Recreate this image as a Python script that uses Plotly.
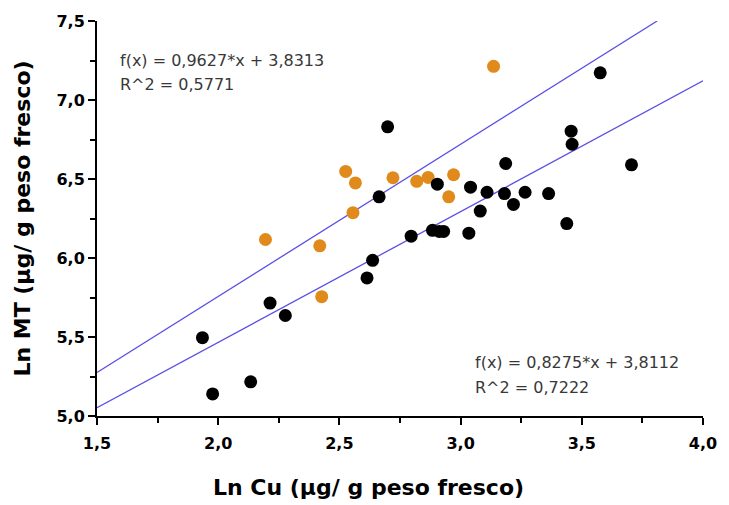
import plotly.graph_objects as go

# Black series
black_x = [1.935, 1.977, 2.134, 2.214, 2.277, 2.614, 2.637, 2.664, 2.699, 2.796,
           2.884, 2.904, 2.912, 2.930, 3.034, 3.041, 3.081, 3.109, 3.181, 3.186,
           3.218, 3.266, 3.363, 3.438, 3.456, 3.460, 3.576, 3.705]
black_y = [5.496, 5.140, 5.216, 5.715, 5.636, 5.874, 5.985, 6.387, 6.830, 6.138,
           6.175, 6.467, 6.168, 6.168, 6.157, 6.448, 6.297, 6.416, 6.408, 6.598,
           6.339, 6.416, 6.408, 6.218, 6.803, 6.720, 7.172, 6.590]

# Orange series
orange_x = [2.195, 2.419, 2.427, 2.526, 2.566, 2.556, 2.721, 2.819, 2.866, 2.951, 2.971, 3.136]
orange_y = [6.117, 6.077, 5.755, 6.548, 6.475, 6.287, 6.508, 6.485, 6.510, 6.387, 6.527, 7.213]

# Regression lines: slope, intercept
fit_orange = (0.9627, 3.8313)
fit_black = (0.8275, 3.8112)
x_ticks = [1.5, 2.0, 2.5, 3.0, 3.5, 4.0]
y_ticks = [5.0, 5.5, 6.0, 6.5, 7.0, 7.5]
x_title = "Ln Cu (µg/ g peso fresco)"
y_title = "Ln MT (µg/ g peso fresco)"

x_end_orange = (7.5 - fit_orange[1]) / fit_orange[0]
lx_o = [1.5, x_end_orange]
ly_o = [fit_orange[0] * v + fit_orange[1] for v in lx_o]
lx_b = [1.5, 4.0]
ly_b = [fit_black[0] * v + fit_black[1] for v in lx_b]

line_color = "#5A4FE6"
fig = go.Figure()
fig.add_trace(go.Scatter(x=lx_o, y=ly_o, mode="lines", line=dict(color=line_color, width=1.3),
                         showlegend=False, hoverinfo="skip"))
fig.add_trace(go.Scatter(x=lx_b, y=ly_b, mode="lines", line=dict(color=line_color, width=1.3),
                         showlegend=False, hoverinfo="skip"))
fig.add_trace(go.Scatter(x=orange_x, y=orange_y, mode="markers",
                         marker=dict(color="#E08A1C", size=13, line=dict(width=0)),
                         showlegend=False, cliponaxis=False))
fig.add_trace(go.Scatter(x=black_x, y=black_y, mode="markers",
                         marker=dict(color="#000000", size=13, line=dict(width=0)),
                         showlegend=False, cliponaxis=False))

font_main = "DejaVu Sans, Verdana, sans-serif"
ann_font = dict(family=font_main, size=16, color="#383838")
anns = [
    dict(x=1.585, y=7.25, text="f(x) = 0,9627*x + 3,8313"),
    dict(x=1.585, y=7.10, text="R^2 = 0,5771"),
    dict(x=3.051, y=5.341, text="f(x) = 0,8275*x + 3,8112"),
    dict(x=3.051, y=5.182, text="R^2 = 0,7222"),
]
for a in anns:
    fig.add_annotation(x=a["x"], y=a["y"], text=a["text"], xref="x", yref="y",
                       xanchor="left", yanchor="middle", showarrow=False, font=ann_font)

# x-axis title (placed slightly left of centre, as in the original)
fig.add_annotation(x=0.448, y=-0.181, xref="paper", yref="paper", text=x_title,
                   xanchor="center", yanchor="middle", showarrow=False,
                   font=dict(family=font_main, size=22, color="black", weight="bold"))

axis_common = dict(
    showgrid=False, zeroline=False, showline=True, linecolor="black", linewidth=2,
    ticks="outside", ticklen=7, tickwidth=2, tickcolor="black",
    tickfont=dict(family=font_main, size=16, color="black", weight="bold"),
    minor=dict(ticks="outside", ticklen=5, tickwidth=2, tickcolor="black", dtick=0.25, showgrid=False),
)
fig.update_xaxes(range=[1.5, 4.0], tickvals=x_ticks, ticktext=[f"{v:.1f}".replace(".", ",") for v in x_ticks],
                 ticklabelstandoff=5, **axis_common)
fig.update_yaxes(range=[5.0, 7.5], tickvals=y_ticks, ticktext=[f"{v:.1f}".replace(".", ",") for v in y_ticks],
                 title=dict(text=y_title,
                            font=dict(family=font_main, size=22, color="black", weight="bold"), standoff=20),
                 **axis_common)
fig.update_layout(
    width=729, height=505,
    margin=dict(l=97, r=20, t=18, b=89),
    paper_bgcolor="white", plot_bgcolor="white",
)
fig.write_html("out.html")
